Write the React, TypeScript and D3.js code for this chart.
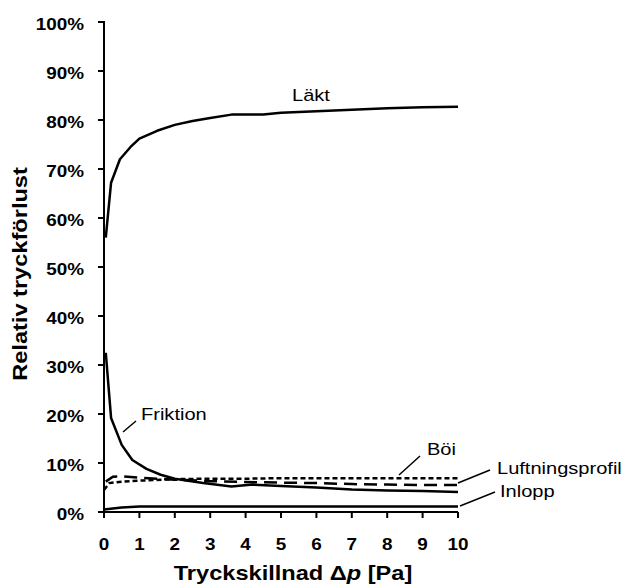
import React from "react";
import * as d3 from "d3";

const yTicks = [0, 0.1, 0.2, 0.3, 0.4, 0.5, 0.6, 0.7, 0.8, 0.9, 1.0];
const xTicks = [0, 1, 2, 3, 4, 5, 6, 7, 8, 9, 10];

const laktX = [0.05, 0.2, 0.45, 0.75, 1, 1.5, 2, 2.5, 3, 3.6, 4.5, 5, 6, 7, 8, 9, 10];
const laktY = [0.56, 0.672, 0.72, 0.745, 0.762, 0.778, 0.79, 0.798, 0.804, 0.811, 0.811, 0.815, 0.818, 0.821, 0.824, 0.826, 0.827];

const frikX = [0.05, 0.2, 0.5, 0.8, 1.2, 1.6, 2, 2.8, 3.6, 4.2, 5, 6, 7, 8, 9, 10];
const frikY = [0.325, 0.192, 0.137, 0.106, 0.088, 0.076, 0.068, 0.059, 0.052, 0.056, 0.053, 0.05, 0.046, 0.044, 0.043, 0.041];

const boiX = [0, 0.15, 0.5, 1, 2, 3, 4, 5, 6, 7, 8, 9, 10];
const boiY = [0.045, 0.059, 0.062, 0.064, 0.067, 0.068, 0.068, 0.069, 0.069, 0.069, 0.069, 0.069, 0.069];

const luftX = [0.05, 0.25, 0.5, 1, 2, 3, 4, 5, 6, 7, 8, 9, 10];
const luftY = [0.062, 0.072, 0.073, 0.07, 0.066, 0.063, 0.061, 0.06, 0.059, 0.057, 0.056, 0.055, 0.055];

const inlX = [0, 0.5, 1, 2, 4, 6, 8, 10];
const inlY = [0.005, 0.009, 0.011, 0.011, 0.011, 0.011, 0.011, 0.011];

const FONT = "'Liberation Sans', Arial, sans-serif";
const SX = 1.18;

function T({
  x,
  y,
  size,
  bold,
  anchor,
  rotate,
  children,
}: {
  x: number;
  y: number;
  size: number;
  bold?: boolean;
  anchor?: string;
  rotate?: boolean;
  children: React.ReactNode;
}) {
  const tr = rotate
    ? `translate(${x},${y}) rotate(-90) scale(${SX},1)`
    : `translate(${x},${y}) scale(${SX},1)`;
  return (
    <text
      transform={tr}
      fontSize={size}
      fontWeight={bold ? "bold" : "normal"}
      textAnchor={anchor || "start"}
      fill="#000"
    >
      {children}
    </text>
  );
}

export default function App() {
  const x = d3.scaleLinear().domain([0, 10]).range([104, 458]);
  const y = d3.scaleLinear().domain([0, 1]).range([512, 22]);
  const line = d3
    .line<[number, number]>()
    .x((d) => x(d[0]))
    .y((d) => y(d[1]));
  const pts = (xs: number[], ys: number[]) => xs.map((v, i) => [v, ys[i]] as [number, number]);

  return (
    <svg
      width={624}
      height={585}
      style={{ position: "absolute", left: 0, top: 0, background: "#fff" }}
      fontFamily={FONT}
    >
      <rect x={0} y={0} width={624} height={585} fill="#fff" />
      {/* axes */}
      <line x1={x(0)} x2={x(0)} y1={y(1) - 1} y2={y(0)} stroke="#000" strokeWidth={2} />
      <line x1={x(0)} x2={x(10)} y1={y(0)} y2={y(0)} stroke="#000" strokeWidth={2} />
      {yTicks.map((t) => (
        <g key={"y" + t}>
          <line x1={x(0) - 6} x2={x(0)} y1={y(t)} y2={y(t)} stroke="#000" strokeWidth={2} />
          <T x={84} y={y(t) + 7.5} size={16} bold anchor="end">
            {Math.round(t * 100) + "%"}
          </T>
        </g>
      ))}
      {xTicks.map((t) => (
        <g key={"x" + t}>
          <line x1={x(t)} x2={x(t)} y1={y(0)} y2={y(0) + 6} stroke="#000" strokeWidth={2} />
          <T x={x(t)} y={550} size={16} bold anchor="middle">
            {t}
          </T>
        </g>
      ))}
      <T x={27} y={274} size={20} bold anchor="middle" rotate>
        Relativ tryckförlust
      </T>
      <T x={293} y={580} size={20} bold anchor="middle">
        Tryckskillnad Δ<tspan fontStyle="italic">p</tspan> [Pa]
      </T>

      {/* series */}
      <path d={line(pts(inlX, inlY)) || ""} fill="none" stroke="#000" strokeWidth={2.5} />
      <path d={line(pts(boiX, boiY)) || ""} fill="none" stroke="#000" strokeWidth={2.5} strokeDasharray="5,3" />
      <path d={line(pts(luftX, luftY)) || ""} fill="none" stroke="#000" strokeWidth={2.5} strokeDasharray="13,7" />
      <path d={line(pts(frikX, frikY)) || ""} fill="none" stroke="#000" strokeWidth={2.5} strokeLinejoin="round" />
      <path d={line(pts(laktX, laktY)) || ""} fill="none" stroke="#000" strokeWidth={2.5} strokeLinejoin="round" />

      {/* labels */}
      <T x={292} y={101} size={17}>Läkt</T>
      <T x={141} y={420} size={17}>Friktion</T>
      <line x1={123} y1={432} x2={136} y2={421} stroke="#000" strokeWidth={1.5} />
      <T x={427} y={455} size={17}>Böi</T>
      <line x1={399} y1={475} x2={420} y2={456} stroke="#000" strokeWidth={1.5} />
      <T x={497} y={474} size={17}>Luftningsprofil</T>
      <line x1={458} y1={483} x2={490} y2={470} stroke="#000" strokeWidth={1.5} />
      <T x={500} y={497} size={17}>Inlopp</T>
      <line x1={460} y1={506} x2={495} y2={492} stroke="#000" strokeWidth={1.5} />
    </svg>
  );
}
